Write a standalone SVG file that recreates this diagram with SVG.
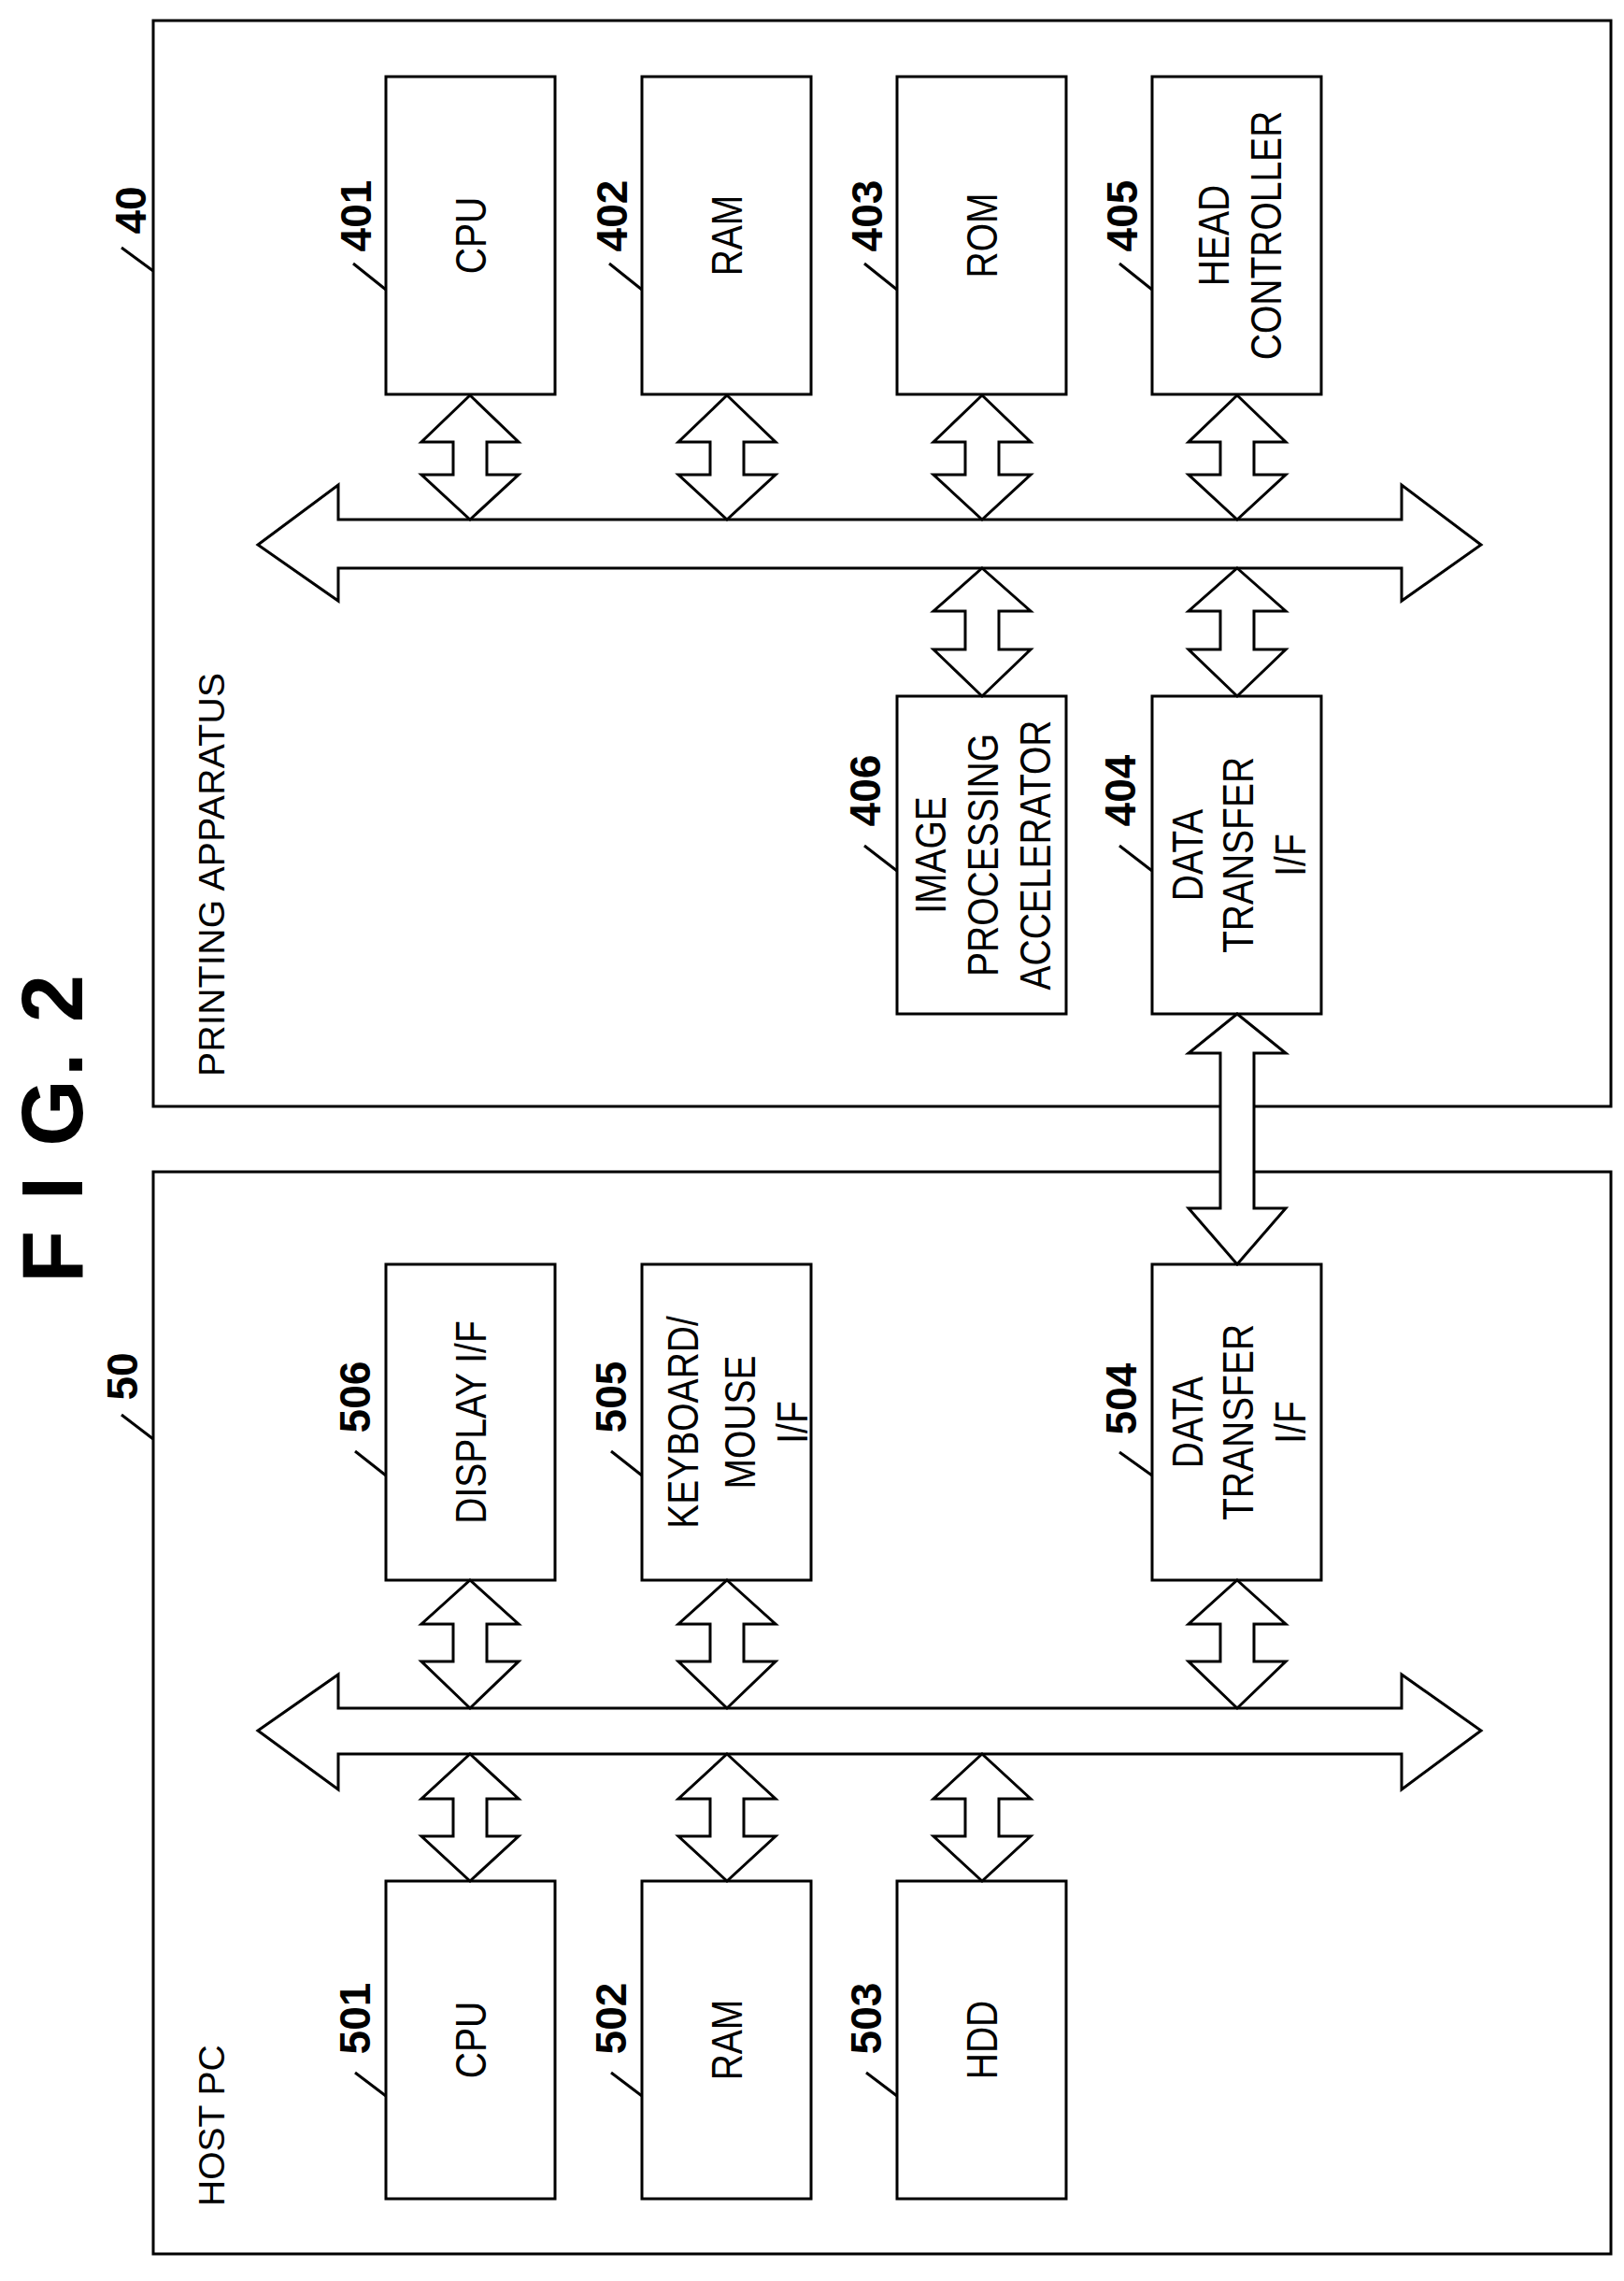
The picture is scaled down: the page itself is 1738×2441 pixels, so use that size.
<svg xmlns="http://www.w3.org/2000/svg" width="1738" height="2441" viewBox="0 0 1738 2441">
<style>
rect,polygon{fill:#fff;stroke:#000;stroke-width:3}
line{stroke:#000;stroke-width:3}
text{font-family:"Liberation Sans",Arial,sans-serif;fill:#000}
.t{font-size:47px;text-anchor:middle}
.n{font-size:46px;font-weight:bold;text-anchor:middle}
.g{font-size:39px}
</style>
<rect width="1738" height="2441" style="fill:#fff;stroke:none"/>
<text x="88" y="1373" font-size="92" font-weight="bold" transform="rotate(-90 88 1373)" textLength="330" lengthAdjust="spacing">F I G. 2</text>

<g id="printing-apparatus">
<rect x="164" y="22" width="1560" height="1162"/>
<text class="g" x="240" y="1152" transform="rotate(-90 240 1152)" textLength="432">PRINTING APPARATUS</text>
<text class="n" x="156" y="225" transform="rotate(-90 156 225)">40</text>
<line x1="130" y1="265" x2="164" y2="290"/>
</g>
<g id="host-pc">
<rect x="164" y="1254" width="1560" height="1158"/>
<text class="g" x="240" y="2361" transform="rotate(-90 240 2361)">HOST PC</text>
<text class="n" x="147" y="1473" transform="rotate(-90 147 1473)">50</text>
<line x1="130" y1="1514" x2="164" y2="1540"/>
</g>

<g id="n401"><rect x="413" y="82" width="181" height="340"/>
<text class="t" transform="translate(520,252) rotate(-90) scale(0.83,1)">CPU</text>
<text class="n" x="397" y="231" transform="rotate(-90 397 231)">401</text><line x1="378" y1="282" x2="413" y2="310"/></g>
<g id="n402"><rect x="687" y="82" width="181" height="340"/>
<text class="t" transform="translate(794,252) rotate(-90) scale(0.83,1)">RAM</text>
<text class="n" x="671" y="231" transform="rotate(-90 671 231)">402</text><line x1="652" y1="282" x2="687" y2="310"/></g>
<g id="n403"><rect x="960" y="82" width="181" height="340"/>
<text class="t" transform="translate(1067,252) rotate(-90) scale(0.83,1)">ROM</text>
<text class="n" x="944" y="231" transform="rotate(-90 944 231)">403</text><line x1="925" y1="282" x2="960" y2="310"/></g>
<g id="n405"><rect x="1233" y="82" width="181" height="340"/>
<text class="t" transform="translate(1315,252) rotate(-90) scale(0.83,1)">HEAD</text>
<text class="t" transform="translate(1371,252) rotate(-90) scale(0.83,1)">CONTROLLER</text>
<text class="n" x="1217" y="231" transform="rotate(-90 1217 231)">405</text><line x1="1198" y1="282" x2="1233" y2="310"/></g>
<g id="n406"><rect x="960" y="745" width="181" height="340"/>
<text class="t" transform="translate(1012,915) rotate(-90) scale(0.83,1)">IMAGE</text>
<text class="t" transform="translate(1068,915) rotate(-90) scale(0.83,1)">PROCESSING</text>
<text class="t" transform="translate(1124,915) rotate(-90) scale(0.83,1)">ACCELERATOR</text>
<text class="n" x="942" y="846" transform="rotate(-90 942 846)">406</text><line x1="925" y1="905" x2="960" y2="932"/></g>
<g id="n404"><rect x="1233" y="745" width="181" height="340"/>
<text class="t" transform="translate(1287,915) rotate(-90) scale(0.83,1)">DATA</text>
<text class="t" transform="translate(1341,915) rotate(-90) scale(0.83,1)">TRANSFER</text>
<text class="t" transform="translate(1397,915) rotate(-90) scale(0.83,1)">I/F</text>
<text class="n" x="1215" y="846" transform="rotate(-90 1215 846)">404</text><line x1="1198" y1="905" x2="1233" y2="932"/></g>

<g id="n506"><rect x="413" y="1353" width="181" height="338"/>
<text class="t" transform="translate(520,1522) rotate(-90) scale(0.83,1)">DISPLAY I/F</text>
<text class="n" x="396" y="1495" transform="rotate(-90 396 1495)">506</text><line x1="380" y1="1553" x2="413" y2="1579"/></g>
<g id="n505"><rect x="687" y="1353" width="181" height="338"/>
<text class="t" transform="translate(747,1522) rotate(-90) scale(0.83,1)">KEYBOARD/</text>
<text class="t" transform="translate(808,1522) rotate(-90) scale(0.83,1)">MOUSE</text>
<text class="t" transform="translate(864,1522) rotate(-90) scale(0.83,1)">I/F</text>
<text class="n" x="670" y="1495" transform="rotate(-90 670 1495)">505</text><line x1="654" y1="1553" x2="687" y2="1579"/></g>
<g id="n504"><rect x="1233" y="1353" width="181" height="338"/>
<text class="t" transform="translate(1287,1522) rotate(-90) scale(0.83,1)">DATA</text>
<text class="t" transform="translate(1341,1522) rotate(-90) scale(0.83,1)">TRANSFER</text>
<text class="t" transform="translate(1397,1522) rotate(-90) scale(0.83,1)">I/F</text>
<text class="n" x="1216" y="1497" transform="rotate(-90 1216 1497)">504</text><line x1="1198" y1="1554" x2="1233" y2="1579"/></g>
<g id="n501"><rect x="413" y="2013" width="181" height="340"/>
<text class="t" transform="translate(520,2183) rotate(-90) scale(0.83,1)">CPU</text>
<text class="n" x="396" y="2160" transform="rotate(-90 396 2160)">501</text><line x1="380" y1="2218" x2="413" y2="2243"/></g>
<g id="n502"><rect x="687" y="2013" width="181" height="340"/>
<text class="t" transform="translate(794,2183) rotate(-90) scale(0.83,1)">RAM</text>
<text class="n" x="670" y="2160" transform="rotate(-90 670 2160)">502</text><line x1="654" y1="2218" x2="687" y2="2243"/></g>
<g id="n503"><rect x="960" y="2013" width="181" height="340"/>
<text class="t" transform="translate(1067,2183) rotate(-90) scale(0.83,1)">HDD</text>
<text class="n" x="943" y="2160" transform="rotate(-90 943 2160)">503</text><line x1="927" y1="2218" x2="960" y2="2243"/></g>

<g id="connectors">
<polygon points="276,583 362,519 362,556 1500,556 1500,519 1585,583 1500,643 1500,608 362,608 362,643"/>
<polygon points="276,1852 362,1792 362,1828 1500,1828 1500,1792 1585,1852 1500,1915 1500,1877 362,1877 362,1915"/>
<polygon points="503,423 555,473 521,473 521,508 555,508 503,556 451,508 485,508 485,473 451,473"/>
<polygon points="778,423 830,473 796,473 796,508 830,508 778,556 726,508 760,508 760,473 726,473"/>
<polygon points="1051,423 1103,473 1069,473 1069,508 1103,508 1051,556 999,508 1033,508 1033,473 999,473"/>
<polygon points="1324,423 1376,473 1342,473 1342,508 1376,508 1324,556 1272,508 1306,508 1306,473 1272,473"/>
<polygon points="1051,608 1103,654 1069,654 1069,695 1103,695 1051,745 999,695 1033,695 1033,654 999,654"/>
<polygon points="1324,608 1376,654 1342,654 1342,695 1376,695 1324,745 1272,695 1306,695 1306,654 1272,654"/>
<polygon points="1324,1085 1376,1127 1342,1127 1342,1293 1376,1293 1324,1353 1272,1293 1306,1293 1306,1127 1272,1127"/>
<polygon points="503,1691 555,1738 521,1738 521,1778 555,1778 503,1828 451,1778 485,1778 485,1738 451,1738"/>
<polygon points="778,1691 830,1738 796,1738 796,1778 830,1778 778,1828 726,1778 760,1778 760,1738 726,1738"/>
<polygon points="1324,1691 1376,1738 1342,1738 1342,1778 1376,1778 1324,1828 1272,1778 1306,1778 1306,1738 1272,1738"/>
<polygon points="503,1877 555,1925 521,1925 521,1965 555,1965 503,2013 451,1965 485,1965 485,1925 451,1925"/>
<polygon points="778,1877 830,1925 796,1925 796,1965 830,1965 778,2013 726,1965 760,1965 760,1925 726,1925"/>
<polygon points="1051,1877 1103,1925 1069,1925 1069,1965 1103,1965 1051,2013 999,1965 1033,1965 1033,1925 999,1925"/>
</g>
</svg>
